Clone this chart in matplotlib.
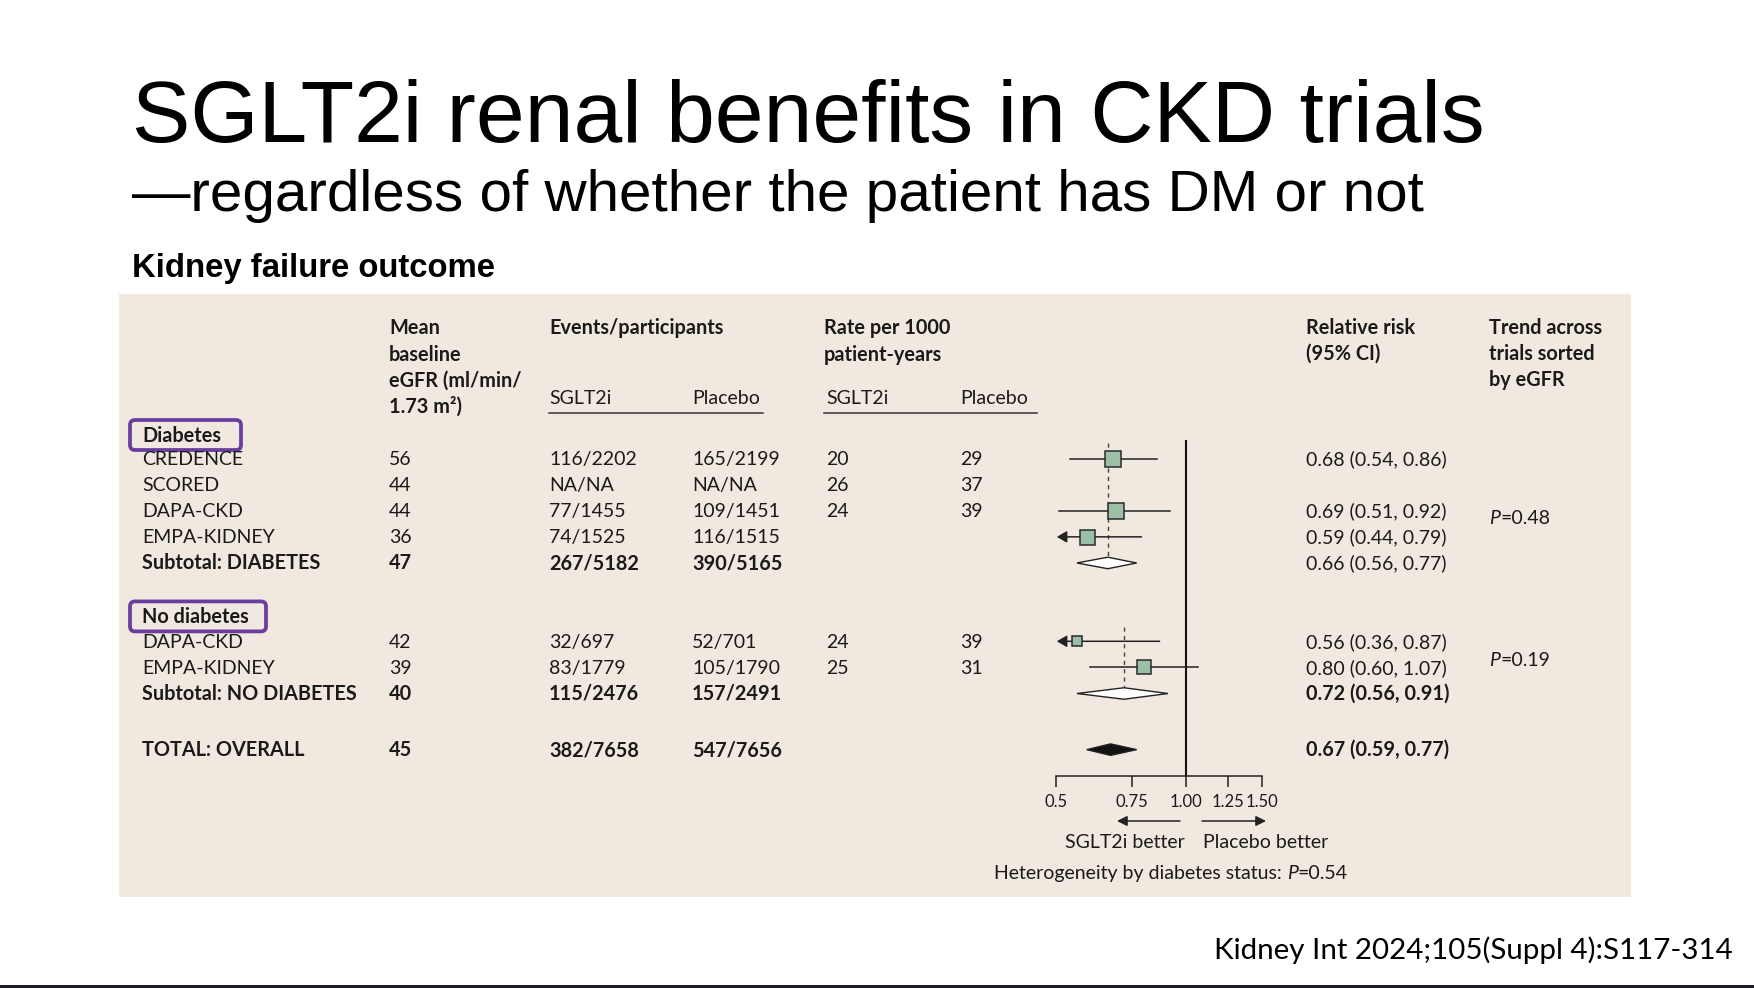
import matplotlib
matplotlib.use("Agg")
import matplotlib.pyplot as plt
from matplotlib.patches import Rectangle, FancyBboxPatch, Polygon
from matplotlib.transforms import IdentityTransform
from matplotlib.ticker import FixedLocator, FixedFormatter, NullLocator

# ---- data ----
labels = ["CREDENCE", "SCORED", "DAPA-CKD", "EMPA-KIDNEY", "Subtotal: DIABETES",
          "DAPA-CKD", "EMPA-KIDNEY", "Subtotal: NO DIABETES", "TOTAL: OVERALL"]
kinds = ["trial", "trial", "trial", "trial", "sub", "trial", "trial", "sub", "total"]
egfr = [56, 44, 44, 36, 47, 42, 39, 40, 45]
events_sglt2 = ["116/2202", "NA/NA", "77/1455", "74/1525", "267/5182",
                "32/697", "83/1779", "115/2476", "382/7658"]
events_placebo = ["165/2199", "NA/NA", "109/1451", "116/1515", "390/5165",
                  "52/701", "105/1790", "157/2491", "547/7656"]
rate_sglt2 = [20, 26, 24, None, None, 24, 25, None, None]
rate_placebo = [29, 37, 39, None, None, 39, 31, None, None]
rr = [0.68, None, 0.69, 0.59, 0.66, 0.56, 0.80, 0.72, 0.67]
rr_lo = [0.54, None, 0.51, 0.44, 0.56, 0.36, 0.60, 0.56, 0.59]
rr_hi = [0.86, None, 0.92, 0.79, 0.77, 0.87, 1.07, 0.91, 0.77]
rr_bold = [False, False, False, False, False, False, False, True, True]
weights = [16, 0, 15.5, 15, 0, 10.5, 14.5, 0, 0]   # square size
trend_p = ["0.48", "0.19"]
het_p = "0.54"
xticks = [0.5, 0.75, 1.0, 1.25, 1.5]
xtick_labels = ["0.5", "0.75", "1.00", "1.25", "1.50"]

# layout rows (row units)
rows = [1, 2, 3, 4, 5, 8, 9, 10, 12.15]
group_rows = [0.1, 7.05]
group_names = ["Diabetes", "No diabetes"]

W, H = 1754, 988
TAB = "Lato"
INK = "#1a1a1a"
PANEL = "#f1e9e0"
GREEN = "#9cc0a5"
PURPLE = "#6a3d9e"
FS = 14      # regular table text
FSB = 14.3   # bold table text

fig = plt.figure(figsize=(W / 100, H / 100), dpi=100)
fig.patch.set_facecolor("white")
renderer = fig.canvas.get_renderer()


def fx(x):
    return x / W


def fy(y):
    return 1 - y / H


def row_y(r):
    return 432.4 + 26.1 * r


def txt(x, y, s, size=FS, weight="normal", style="normal", family=TAB, ha="left", color=INK):
    if weight == "bold" and size == FS:
        size = FSB
    return fig.text(fx(x), fy(y), s, fontsize=size, fontweight=weight, fontstyle=style,
                    family=family, ha=ha, va="baseline", color=color)


def fit(t, width):
    w = t.get_window_extent(renderer).width
    t.set_fontsize(t.get_fontsize() * width / w)


def rich(x, y, parts, size=FS):
    for s, style in parts:
        t = txt(x, y, s, size=size, style=style)
        x += t.get_window_extent(renderer).width


# titles
t = txt(132, 142, "SGLT2i renal benefits in CKD trials", size=63, family="Liberation Sans", color="black")
fit(t, 1353)
t = txt(132, 211, "\u2014regardless of whether the patient has DM or not", size=41,
        family="Liberation Sans", color="black")
fit(t, 1292)
t = txt(132, 277, "Kidney failure outcome", size=23.5, weight="bold", family="Liberation Sans", color="black")
fit(t, 363)
t = txt(1214, 959, "Kidney Int 2024;105(Suppl 4):S117-314", size=20, color="black")
fit(t, 518)

# panel + bottom rule
fig.add_artist(Rectangle((118.6, H - 897), 1512.4, 603, transform=IdentityTransform(),
                         fc=PANEL, ec="none", zorder=0))
fig.add_artist(Rectangle((0, 0), W, 3, transform=IdentityTransform(), fc="#1c1c24", ec="none"))

# column headers
hdr = dict(weight="bold")
for i, line in enumerate(["Mean", "baseline", "eGFR (ml/min/", "1.73 m\u00b2)"]):
    txt(389, 334.5 + 26 * i, line, **hdr)
txt(549, 334.5, "Events/participants", **hdr)
for i, line in enumerate(["Rate per 1000", "patient-years"]):
    txt(824, 334.5 + 26 * i, line, **hdr)
for i, line in enumerate(["Relative risk", "(95% CI)"]):
    txt(1306, 334.5 + 25.5 * i, line, **hdr)
for i, line in enumerate(["Trend across", "trials sorted", "by eGFR"]):
    txt(1489, 334.5 + 25.5 * i, line, **hdr)
for x, s in [(549, "SGLT2i"), (692, "Placebo"), (826, "SGLT2i"), (960, "Placebo")]:
    txt(x, 404.5, s)
for x0, x1 in [(549, 763), (824, 1037)]:
    fig.add_artist(plt.Line2D([fx(x0), fx(x1)], [fy(413), fy(413)], color="#333333", lw=1.1))

# group headers with purple boxes
box_w = [111, 136]
for name, r, bw in zip(group_names, group_rows, box_w):
    yc = row_y(r)
    txt(142, yc + 6.5, name, weight="bold")
    fig.add_artist(FancyBboxPatch((130, H - yc - 15), bw, 30, transform=IdentityTransform(),
                                  boxstyle="round,pad=0,rounding_size=5", fc="none",
                                  ec=PURPLE, lw=2.7))

# table rows
for i, r in enumerate(rows):
    yb = row_y(r) + 6.5
    w = "bold" if kinds[i] in ("sub", "total") else "normal"
    txt(142, yb, labels[i], weight=w)
    txt(389, yb, str(egfr[i]), weight=w)
    txt(549, yb, events_sglt2[i], weight=w)
    txt(692, yb, events_placebo[i], weight=w)
    if rate_sglt2[i] is not None:
        txt(826, yb, str(rate_sglt2[i]))
        txt(960, yb, str(rate_placebo[i]))
    if rr[i] is not None:
        txt(1306, yb, f"{rr[i]:.2f} ({rr_lo[i]:.2f}, {rr_hi[i]:.2f})",
            weight="bold" if rr_bold[i] else "normal")

rich(1489, 523.5, [("P", "italic"), ("=" + trend_p[0], "normal")])
rich(1489, 665.5, [("P", "italic"), ("=" + trend_p[1], "normal")])

# forest plot
ax = fig.add_axes([fx(1055.7), fy(776), (1261.7 - 1055.7) / W, (776 - 440) / H])
ax.set_xscale("log")
ax.set_xlim(0.5, 1.5)
ax.set_ylim(13.16, 0.29)
ax.patch.set_alpha(0)
for side in ["left", "top", "right"]:
    ax.spines[side].set_visible(False)
ax.spines["bottom"].set_linewidth(1.1)
ax.spines["bottom"].set_color("#222222")
ax.set_yticks([])
ax.xaxis.set_major_locator(FixedLocator(xticks))
ax.xaxis.set_major_formatter(FixedFormatter(xtick_labels))
ax.xaxis.set_minor_locator(NullLocator())
ax.tick_params(axis="x", direction="out", length=8, width=1.1, color="#222222", pad=5,
               labelsize=12, labelcolor=INK)
for lab in ax.get_xticklabels():
    lab.set_family(TAB)

ax.axvline(1.0, color="#111111", lw=1.5, zorder=2)

# dashed subtotal reference lines
sub_idx = [i for i, k in enumerate(kinds) if k == "sub"]
dash_top = [0.4, 7.45]
for j, i in enumerate(sub_idx):
    ax.plot([rr[i], rr[i]], [dash_top[j], rows[i] - 0.2], color="#444444", lw=1,
            ls=(0, (3, 3)), zorder=1)

for i, r in enumerate(rows):
    if rr[i] is None:
        continue
    if kinds[i] == "trial":
        if rr_lo[i] < 0.5:
            ax.annotate("", xy=(0.503, r), xytext=(rr_hi[i], r),
                        arrowprops=dict(arrowstyle="-|>,head_length=0.6,head_width=0.35",
                                        color="#222222", lw=1.1, shrinkA=0, shrinkB=0),
                        zorder=3)
        else:
            ax.plot([rr_lo[i], rr_hi[i]], [r, r], color="#222222", lw=1.1, zorder=3)
        ax.plot([rr[i]], [r], marker="s", ms=weights[i] * 0.72, mfc=GREEN, mec="#2a2a2a",
                mew=1.1, zorder=4)
    else:
        h = 0.22
        fc = "white" if kinds[i] == "sub" else "#111111"
        ax.add_patch(Polygon([(rr_lo[i], r), (rr[i], r - h), (rr_hi[i], r), (rr[i], r + h)],
                             closed=True, fc=fc, ec="#222222", lw=1, zorder=4))

# direction arrows under the axis
for x0, x1 in [(1180, 1117), (1202, 1266)]:
    ax.annotate("", xy=(x1, H - 821), xytext=(x0, H - 821), xycoords="figure pixels",
                textcoords="figure pixels",
                arrowprops=dict(arrowstyle="-|>,head_length=0.6,head_width=0.3",
                                color="#222222", lw=1.1, shrinkA=0, shrinkB=0))
txt(1125, 847.5, "SGLT2i better", ha="center")
txt(1266, 847.5, "Placebo better", ha="center")
rich(994, 878.5, [("Heterogeneity by diabetes status: ", "normal"), ("P", "italic"),
                  ("=" + het_p, "normal")])

fig.savefig("out.png", dpi=100)
